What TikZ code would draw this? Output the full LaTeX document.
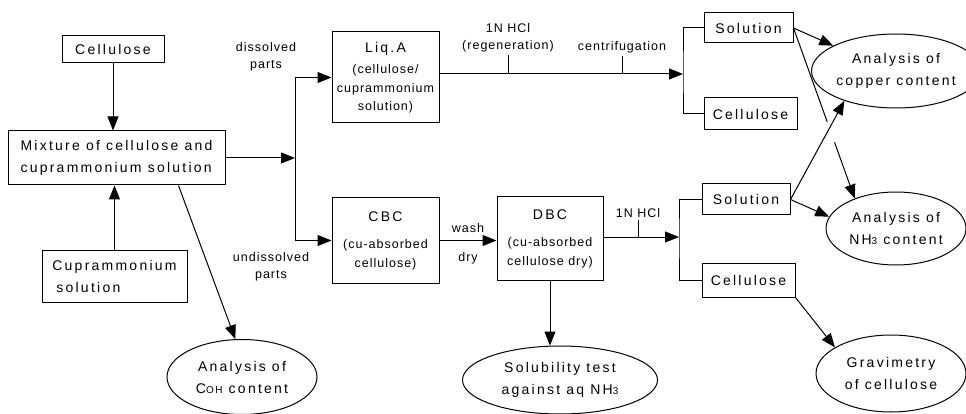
\documentclass[tikz,border=0pt]{standalone}
\usepackage{fontspec}
\setmainfont{Liberation Sans}
\newfontfamily\bxfont{Liberation Sans}[LetterSpace=16]
\newfontfamily\lbfont{Liberation Sans}[LetterSpace=8]
\usetikzlibrary{arrows.meta,positioning,shapes.geometric,calc}

\begin{document}
\begin{tikzpicture}[x=1pt,y=-1pt,>={Triangle[length=14pt,width=11pt]},line width=1pt,
 box/.style={draw,inner sep=2pt,font=\bxfont\fontsize{14}{22}\selectfont},
 oval/.style={draw,ellipse,inner sep=0pt,align=center,font=\bxfont\fontsize{14}{22}\selectfont},
 lbl/.style={inner sep=2pt,align=center,font=\lbfont\fontsize{12.5}{17.5}\selectfont},
 inbox/.style={draw,inner sep=2pt,align=center,font=\lbfont\fontsize{12.5}{18.5}\selectfont}]
\useasboundingbox (0,0) rectangle (966,414);

% left column
\node[box,minimum width=102pt,minimum height=27pt] (cell) at (113,49.5) {Cellulose};
\node[box,minimum width=217pt,minimum height=54pt,align=left] (mix) at (116.5,158) {Mixture of cellulose and\\cuprammonium solution};
\node[box,minimum width=145pt,minimum height=52pt,align=left] (cupr) at (114.5,276) {Cuprammonium\\\hspace{4pt}solution};
\node[oval,minimum width=150pt,minimum height=75pt] (coh) at (242,377) {Analysis of\\C{\fontsize{10}{10}\selectfont OH} content};

% middle
\node[inbox,minimum width=107pt,minimum height=91pt] (liqa) at (385.5,77.5) {{\bxfont\fontsize{14}{17}\selectfont Liq.A}\\[3pt](cellulose/\\cuprammonium\\solution)};
\node[inbox,minimum width=107pt,minimum height=85pt] (cbc) at (385.5,240.5) {{\bxfont\fontsize{14}{17}\selectfont CBC}\\[9pt](cu-absorbed\\cellulose)};
\node[inbox,minimum width=106pt,minimum height=83pt] (dbc) at (550,238.5) {{\bxfont\fontsize{14}{17}\selectfont DBC}\\[9pt](cu-absorbed\\cellulose dry)};
\node[oval,minimum width=195pt,minimum height=68pt] (soltest) at (560,380) {Solubility test\\against aq NH{\fontsize{10}{10}\selectfont 3}};

% right column
\node[box,minimum width=89pt,minimum height=30pt] (sol1) at (748.5,28) {Solution};
\node[box,minimum width=93pt,minimum height=32pt] (cel1) at (750.5,114) {Cellulose};
\node[box,minimum width=88pt,minimum height=31pt] (sol2) at (746,199.5) {Solution};
\node[box,minimum width=93pt,minimum height=34pt] (cel2) at (748.5,280) {Cellulose};
\node[oval,minimum width=143pt,minimum height=74pt] (cu) at (896,71) {Analysis of\\copper content};
\node[oval,minimum width=140pt,minimum height=73pt] (nh3) at (896,228.5) {Analysis of\\NH{\fontsize{10}{10}\selectfont 3} content};
\node[oval,minimum width=150pt,minimum height=77pt] (grav) at (891,373.5) {Gravimetry\\of cellulose};

% labels
\node[lbl] (diss) at (266,57) {dissolved\\parts};
\node[lbl] (undiss) at (271,267) {undissolved\\parts};
\node[lbl] (wash) at (468,228) {wash};
\node[lbl] (dry) at (468,258) {dry};

\coordinate (split) at (295,157);
\coordinate (fork1) at (683,74);
\coordinate (fork2) at (679,237);
\coordinate (hcl1) at (508,74);
\coordinate (cent) at (622,74);
\coordinate (hcl2) at (638,237);

\draw[->] (cell.south) -- (cell.south |- mix.north);
\draw[->] (cupr.north) -- (cupr.north |- mix.south);
\draw[->] ([xshift=62pt]mix.south) -- (coh.100);
\draw[->] (mix.east) -- (mix.east -| split);
\draw[->] (split) |- (liqa.west);
\draw[->] (split) |- (cbc.west);

\draw[->] (liqa.east |- fork1) -- (fork1);
\draw (hcl1) -- ++(0,-19) node[lbl,above] (regen) {1N HCl\\(regeneration)};
\draw (cent) -- ++(0,-18) node[lbl,above] (centr) {centrifugation};
\draw (sol1.west) -| (fork1) |- (cel1.west);

\draw[->] (cbc.east) -- (cbc.east -| dbc.west);
\draw[->] (dbc.south) -- (dbc.south |- soltest.north);
\draw[->] (dbc.east |- fork2) -- (fork2);
\draw (hcl2) -- ++(0,-17) node[lbl,above] (hcl) {1N HCl};
\draw (sol2.west) -| (fork2) |- (cel2.west);

\draw[->] (sol1.east) -- (cu.158);
\draw (sol1.east) -- ($(sol1.east)!.55!(nh3.144)$);
\draw[->] ($(sol1.east)!.67!(nh3.144)$) -- (nh3.144);
\draw[->] (sol2.east) -- (cu.210);
\draw[->] (sol2.east) -- (nh3.170);
\draw[->] (cel2.south east) -- (grav.155);
\end{tikzpicture}
\end{document}
